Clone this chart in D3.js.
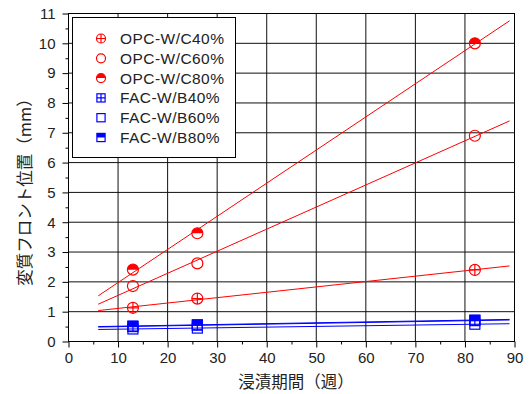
<!DOCTYPE html>
<html><head><meta charset="utf-8">
<script src="https://cdn.jsdelivr.net/npm/d3@7"></script>
<style>body{margin:0;background:#fff}svg{display:block}</style>
</head><body>
<svg id="c" width="529" height="394"></svg>
<script>
const weeks = [13, 26, 82];
const seriesNames = ["OPC-W/C40%","OPC-W/C60%","OPC-W/C80%","FAC-W/B40%","FAC-W/B60%","FAC-W/B80%"];
const opcC40 = [1.13, 1.44, 2.40];
const opcC60 = [1.86, 2.62, 6.90];
const opcC80 = [2.41, 3.63, 10.0];
const facB40 = [0.50, 0.55, 0.70];
const facB60 = [0.42, 0.45, 0.58];
const facB80 = [0.52, 0.56, 0.72];
const xTicks = [0,10,20,30,40,50,60,70,80,90];
const yTicks = [0,1,2,3,4,5,6,7,8,9,10,11];
const fitRange = [6, 89];

const series = [
  {name: seriesNames[0], vals: opcC40, color:"#ff0000", shape:"circle", fill:"cross"},
  {name: seriesNames[1], vals: opcC60, color:"#ff0000", shape:"circle", fill:"open"},
  {name: seriesNames[2], vals: opcC80, color:"#ff0000", shape:"circle", fill:"half"},
  {name: seriesNames[3], vals: facB40, color:"#0000ff", shape:"square", fill:"cross"},
  {name: seriesNames[4], vals: facB60, color:"#0000ff", shape:"square", fill:"open"},
  {name: seriesNames[5], vals: facB80, color:"#0000ff", shape:"square", fill:"half"}
];

const svg = d3.select("#c");
const L=68.5, R=514.5, T=13.5, B=341.5;
const x = d3.scaleLinear().domain([0,90]).range([L,R]);
const y = d3.scaleLinear().domain([0,11]).range([B,T]);

// grid
const g = svg.append("g");
g.selectAll("line.vx").data(xTicks).join("line")
  .attr("x1",d=>x(d)).attr("x2",d=>x(d)).attr("y1",T).attr("y2",B)
  .attr("stroke","#111").attr("stroke-width",1);
g.selectAll("line.hy").data(yTicks).join("line")
  .attr("x1",L).attr("x2",R).attr("y1",d=>y(d)).attr("y2",d=>y(d))
  .attr("stroke","#111").attr("stroke-width",1);
svg.append("rect").attr("x",L).attr("y",T).attr("width",R-L).attr("height",B-T)
  .attr("fill","none").attr("stroke","#000").attr("stroke-width",1);

// axes
const fontNum = "'Liberation Sans', Arial, sans-serif";
const xAxis = d3.axisBottom(x).tickValues(xTicks).tickSize(6).tickPadding(5).tickFormat(d3.format("d"));
const xMinor = d3.axisBottom(x).tickValues(d3.range(5,90,10)).tickSize(3).tickFormat("");
const yAxis = d3.axisLeft(y).tickValues(yTicks).tickSize(6).tickPadding(7).tickFormat(d3.format("d"));
const yMinor = d3.axisLeft(y).tickValues(d3.range(0.5,11,1)).tickSize(3).tickFormat("");
[ [xAxis,`translate(0,${B})`],[xMinor,`translate(0,${B})`],[yAxis,`translate(${L},0)`],[yMinor,`translate(${L},0)`] ].forEach(([a,t])=>{
  const ax = svg.append("g").attr("transform",t).call(a);
  ax.select(".domain").remove();
  ax.selectAll("line").attr("stroke","#000");
  ax.selectAll("text").attr("font-family",fontNum).attr("font-size",15).attr("fill","#222");
});

// fit lines (least squares from data)
function fit(xs, ys){
  const mx=d3.mean(xs), my=d3.mean(ys);
  const sxy=d3.sum(xs,(v,i)=>(v-mx)*(ys[i]-my)), sxx=d3.sum(xs,v=>(v-mx)**2);
  const b=sxy/sxx; return [my-b*mx, b];
}
const line = d3.line().x(d=>x(d[0])).y(d=>y(d[1]));
series.forEach(s=>{
  const [a,b]=fit(weeks,s.vals);
  svg.append("path").datum(fitRange.map(t=>[t,a+b*t])).attr("d",line)
    .attr("fill","none").attr("stroke",s.color).attr("stroke-width",1);
});

// markers
function marker(sel, s, cx, cy, k){
  const gg = sel.append("g").attr("transform",`translate(${cx},${cy})`);
  if(s.shape==="circle"){
    const r=5.5*k;
    if(s.fill==="half"){
      gg.append("path").attr("d",`M${-r},0A${r},${r} 0 0 1 ${r},0Z`).attr("fill",s.color);
    }
    gg.append("circle").attr("r",r).attr("fill","none")
      .attr("stroke",s.color).attr("stroke-width",1.2);
    if(s.fill==="cross"){
      gg.append("path").attr("d",`M${-r},0H${r}M0,${-r}V${r}`).attr("stroke",s.color).attr("stroke-width",1.2);
    }
  } else {
    const h=5*k;
    if(s.fill==="half"){
      gg.append("rect").attr("x",-h).attr("y",-h).attr("width",2*h).attr("height",h).attr("fill",s.color);
    }
    gg.append("rect").attr("x",-h).attr("y",-h).attr("width",2*h).attr("height",2*h)
      .attr("fill","none").attr("stroke",s.color).attr("stroke-width",1.2);
    if(s.fill==="cross"){
      gg.append("path").attr("d",`M${-h},0H${h}M0,${-h}V${h}`).attr("stroke",s.color).attr("stroke-width",1.2);
    }
  }
}
series.forEach(s=>{
  weeks.forEach((w,i)=>marker(svg,s,x(w),y(s.vals[i]),1));
});

// legend
const lg = svg.append("g");
lg.append("rect").attr("x",72.5).attr("y",17.5).attr("width",163).attr("height",140)
  .attr("fill","#fff").attr("stroke","#000").attr("stroke-width",1);
series.forEach((s,i)=>{
  const yy = 38.5 + i*19.8;
  marker(lg, s, 101, yy, 0.82);
  lg.append("text").attr("x",120).attr("y",yy).attr("dy","0.36em")
    .attr("font-family",fontNum).attr("font-size",15.5).attr("letter-spacing","0.45px")
    .attr("fill","#222").text(s.name);
});

// titles
const cjk = "'Noto Sans CJK JP', sans-serif";
svg.append("text").attr("x",296).attr("y",382).attr("dy","0.35em").attr("text-anchor","middle")
  .attr("font-family",cjk).attr("font-size",16.5).attr("fill","#222").text("浸漬期間（週）");
svg.append("text").attr("transform",`translate(25,188) rotate(-90)`).attr("text-anchor","middle")
  .attr("dy","0.35em").attr("font-family",cjk).attr("font-size",16.5).attr("fill","#222").text("変質フロント位置（mm）");
</script>
</body></html>
